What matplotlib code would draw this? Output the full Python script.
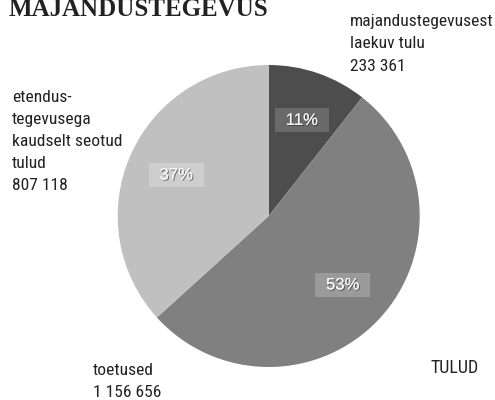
import matplotlib
matplotlib.use("Agg")
import matplotlib.pyplot as plt
import matplotlib.patheffects as pe
from matplotlib.patches import Rectangle
from matplotlib.transforms import IdentityTransform

# Data
categories = ["majandustegevusest\nlaekuv tulu", "toetused", "etendus-\ntegevusega\nkaudselt seotud\ntulud"]
values = [233361, 1156656, 807118]
value_labels = ["233 361", "1 156 656", "807 118"]
colors = ["#4d4d4d", "#808080", "#c0c0c0"]
box_colors = ["#6a6a6a", "#9a9a9a", "#cecece"]
title = "MAJANDUSTEGEVUS"
corner_label = "TULUD"

W, H = 495, 400
fig = plt.figure(figsize=(W / 100, H / 100), dpi=100)
fig.patch.set_facecolor("white")

cx, cy, r = 268.7, 216, 151
ax = fig.add_axes([(cx - r) / W, (H - cy - r) / H, 2 * r / W, 2 * r / H])
wedges, texts, autotexts = ax.pie(
    values, colors=colors, startangle=90, counterclock=False,
    autopct="%.0f%%", pctdistance=0.67, radius=1,
    wedgeprops=dict(linewidth=0),
    textprops=dict(color="#f6f6f6", fontsize=12, family="Liberation Sans", zorder=5),
)
ax.set_xlim(-1, 1)
ax.set_ylim(-1, 1)
ax.set_aspect("equal")
ax.axis("off")

for t in autotexts:
    t.set_path_effects([pe.withSimplePatchShadow(offset=(0.8, -0.8), shadow_rgbFace="#222222", alpha=0.55),
                        pe.Normal()])

fig.canvas.draw()
renderer = fig.canvas.get_renderer()
for t, bc in zip(autotexts, box_colors):
    bb = t.get_window_extent(renderer)
    xc, yc = (bb.x0 + bb.x1) / 2, (bb.y0 + bb.y1) / 2
    bw, bh = bb.width + 22, 24
    ax.add_patch(Rectangle((xc - bw / 2, yc - bh / 2), bw, bh, transform=IdentityTransform(),
                           facecolor=bc, edgecolor="none", zorder=3, clip_on=False))

cond = ["Roboto Condensed", "Liberation Sans Narrow", "DejaVu Sans Condensed", "Roboto", "DejaVu Sans"]

def fy(y):
    return 1 - y / H

fig.text(9 / W, fy(16.5), title, family="Liberation Serif", fontweight="bold", fontsize=18,
         color="#222222", va="baseline", ha="left")

lab = dict(va="baseline", ha="left", family=cond, fontsize=12.6, color="#222222")
fig.text(350 / W, fy(71), categories[0] + "\n" + value_labels[0], linespacing=1.63, **lab)
fig.text(12 / W, fy(190), categories[2] + "\n" + value_labels[2], linespacing=1.58, **lab)
fig.text(93 / W, fy(397), categories[1] + "\n" + value_labels[1], linespacing=1.55, **lab)
fig.text(430 / W, fy(373), corner_label, va="baseline", ha="left",
         family=cond, fontsize=13, color="#222222")

fig.savefig("out.png", dpi=100)
